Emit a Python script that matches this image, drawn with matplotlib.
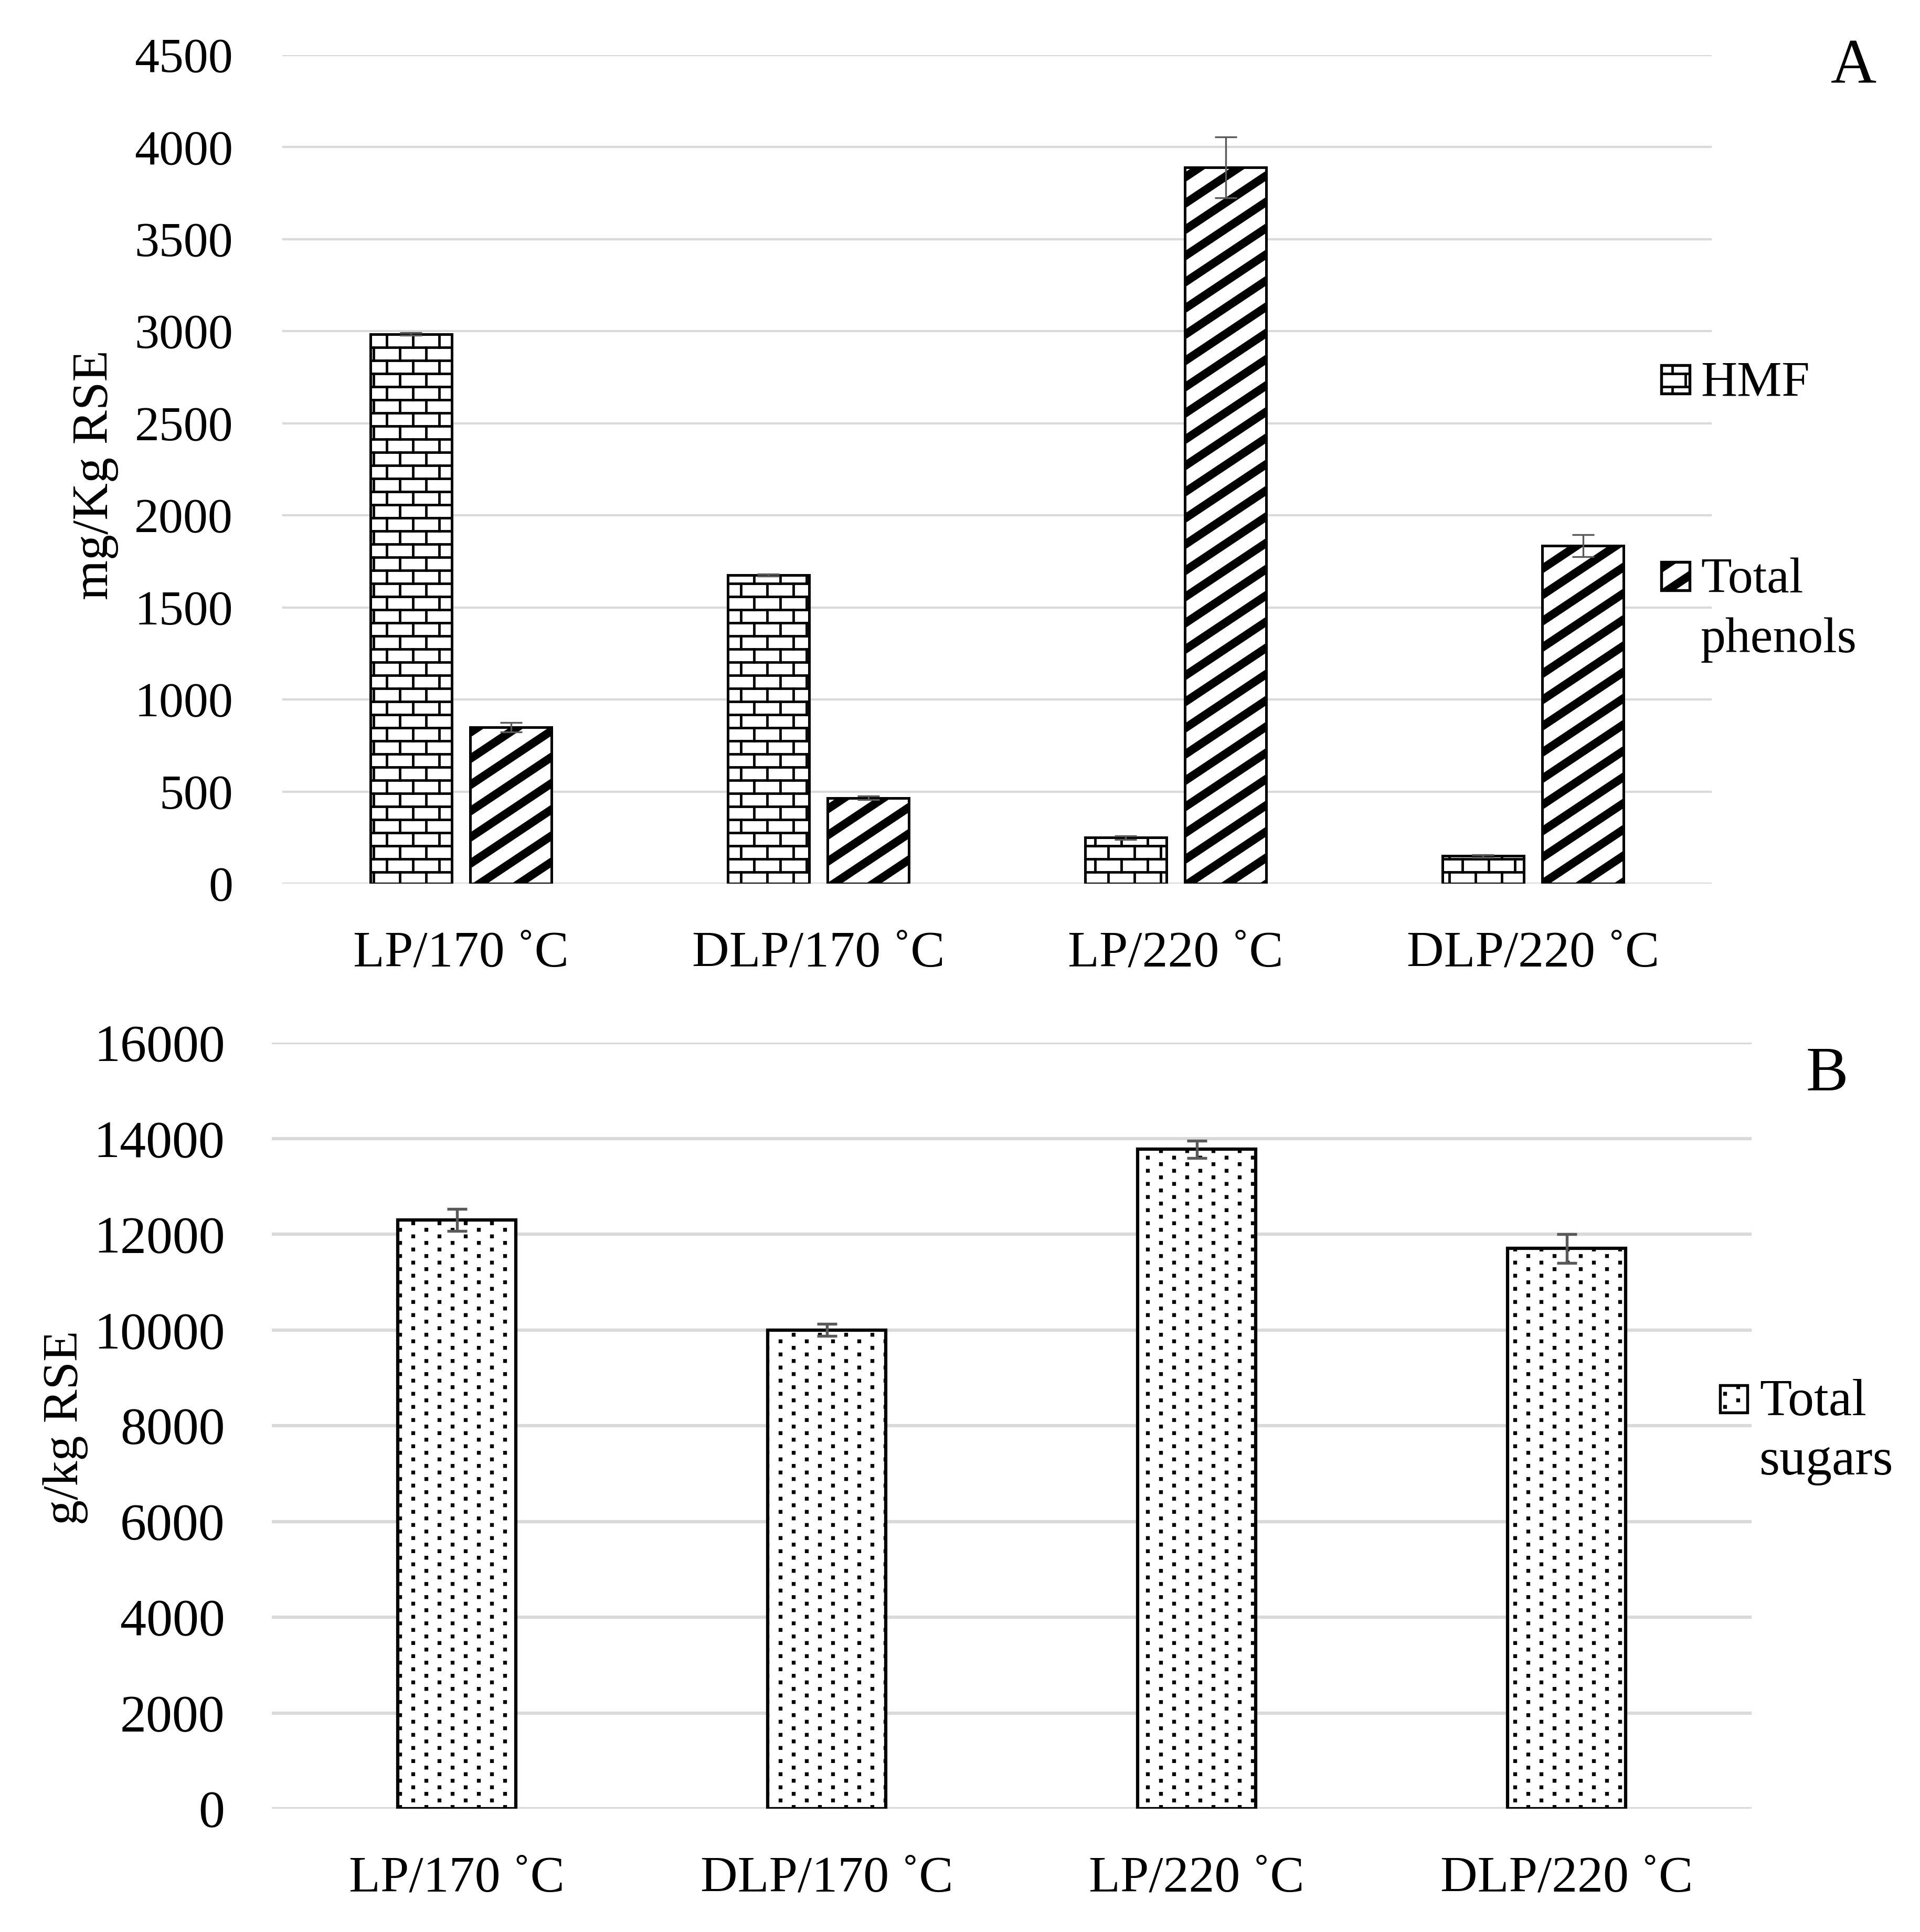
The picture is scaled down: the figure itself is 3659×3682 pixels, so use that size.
import numpy as np
import matplotlib
matplotlib.use("Agg")
import matplotlib.pyplot as plt
import matplotlib.hatch as mhatch
from matplotlib.path import Path
from matplotlib.patches import Rectangle

# values
categories = ["LP/170 \u02daC", "DLP/170 \u02daC", "LP/220 \u02daC", "DLP/220 \u02daC"]
hmf = [2985, 1675, 250, 150]
hmf_err = [8, 6, 10, 8]
phenols = [850, 465, 3890, 1835]
phenols_err = [25, 10, 165, 60]
sugars = [12300, 10000, 13770, 11700]
sugars_err = [230, 130, 180, 300]


# ---- custom hatches (brick / thick stripes / dots), one hatch tile = 1 inch ----
class BrickHatch(mhatch.HatchPatternBase):
    def __init__(self, hatch, density):
        self.rows = 12 if "-" in hatch else 0
        self.cols = 6
        self.num_vertices = self.rows * 2 + (self.rows + 1) * self.cols * 2 if self.rows else 0

    def set_vertices_and_codes(self, vertices, codes):
        h = 1.0 / self.rows
        pts = []
        for r in range(self.rows):
            y = (r + 0.5) * h
            pts += [(0.0, y), (1.0, y)]
        for r in range(-1, self.rows):
            y0 = (r + 0.5) * h
            shift = 0.75 if r % 2 else 0.25
            for c in range(self.cols):
                x = (c + shift) / self.cols
                pts += [(x, y0), (x, y0 + h)]
        vertices[:] = pts
        codes[0::2] = Path.MOVETO
        codes[1::2] = Path.LINETO


class StripeHatch(mhatch.HatchPatternBase):
    def __init__(self, hatch, density):
        self.n = 6 if "/" in hatch else 0
        self.rise = 4.0 / 6.0
        self.thick = 0.044
        self.num_vertices = 12 * 5 if self.n else 0

    def set_vertices_and_codes(self, vertices, codes):
        pts = []
        for j in range(-5, 7):
            c = j / self.n
            pts += [(0.0, c), (1.0, c + self.rise), (1.0, c + self.rise + self.thick),
                    (0.0, c + self.thick), (0.0, c)]
        vertices[:] = pts
        codes[:] = Path.LINETO
        codes[0::5] = Path.MOVETO
        codes[4::5] = Path.CLOSEPOLY


class DotHatch(mhatch.HatchPatternBase):
    def __init__(self, hatch, density):
        self.rows = 24 if "." in hatch else 0
        self.cols = 6
        self.s = 0.0042
        self.num_vertices = self.rows * self.cols * 5 if self.rows else 0

    def set_vertices_and_codes(self, vertices, codes):
        pts = []
        s = self.s
        for r in range(self.rows):
            y = (r + 0.5) / self.rows
            shift = 0.75 if r % 2 else 0.25
            for c in range(self.cols):
                x = (c + shift) / self.cols
                pts += [(x - s, y - s), (x + s, y - s), (x + s, y + s), (x - s, y + s), (x - s, y - s)]
        vertices[:] = pts
        codes[:] = Path.LINETO
        codes[0::5] = Path.MOVETO
        codes[4::5] = Path.CLOSEPOLY


mhatch._hatch_types = [BrickHatch, StripeHatch, DotHatch]

plt.rcParams["font.family"] = ["Liberation Serif", "DejaVu Serif"]
plt.rcParams["hatch.linewidth"] = 1.15
plt.rcParams["hatch.color"] = "black"

W, H = 3659, 3682
fig = plt.figure(figsize=(W / 300, H / 300), dpi=300)

grid_col = "#d9d9d9"
err_col = "#595959"
x = np.arange(len(categories))

# ---------------- panel A ----------------
ax1 = fig.add_axes([538 / W, 1 - 1684 / H, (3262 - 538) / W, (1684 - 105) / H])
off, bw = 0.14, 0.228
ax1.bar(x - off, hmf, bw, color="white", edgecolor="black", linewidth=1.2, hatch="-")
ax1.bar(x + off, phenols, bw, color="white", edgecolor="black", linewidth=1.2, hatch="/")
ax1.errorbar(x - off, hmf, yerr=hmf_err, fmt="none", ecolor=err_col,
             elinewidth=0.8, capsize=5, capthick=0.8, zorder=3)
ax1.errorbar(x + off, phenols, yerr=phenols_err, fmt="none", ecolor=err_col,
             elinewidth=0.8, capsize=5, capthick=0.8, zorder=3)
ax1.set_xlim(-0.5, 3.5)
ax1.set_ylim(0, 4500)
ax1.set_yticks(np.arange(0, 4501, 500))
ax1.set_xticks(x)
ax1.set_xticklabels(categories)
ax1.yaxis.grid(True, color=grid_col, linewidth=1.0)
ax1.set_axisbelow(True)
ax1.tick_params(axis="y", length=0, pad=22.5, labelsize=22.5)
ax1.tick_params(axis="x", length=0, pad=21.5, labelsize=23.5)
for s in ax1.spines.values():
    s.set_visible(False)

# ---------------- panel B ----------------
ax2 = fig.add_axes([518 / W, 1 - 3447 / H, (3338 - 518) / W, (3447 - 1987) / H])
ax2.bar(x, sugars, 0.32, color="white", edgecolor="black", linewidth=1.5, hatch=".")
ax2.errorbar(x, sugars, yerr=sugars_err, fmt="none", ecolor=err_col,
             elinewidth=1.3, capsize=4.6, capthick=1.3, zorder=3)
ax2.set_xlim(-0.5, 3.5)
ax2.set_ylim(0, 16000)
ax2.set_yticks(np.arange(0, 16001, 2000))
ax2.set_xticks(x)
ax2.set_xticklabels(categories)
ax2.yaxis.grid(True, color=grid_col, linewidth=1.5)
ax2.set_axisbelow(True)
ax2.tick_params(axis="y", length=0, pad=21.5, labelsize=24)
ax2.tick_params(axis="x", length=0, pad=21.5, labelsize=23.5)
for s in ax2.spines.values():
    s.set_visible(False)

# axis titles and panel letters
fig.text(182 / W, 1 - 905 / H, "mg/Kg RSE", rotation=90, ha="center", va="center", fontsize=23.5)
fig.text(125 / W, 1 - 2721 / H, "g/kg RSE", rotation=90, ha="center", va="center", fontsize=23)
fig.text(3533 / W, 1 - 159 / H, "A", ha="center", va="baseline", fontsize=29)
fig.text(3482 / W, 1 - 2078 / H, "B", ha="center", va="baseline", fontsize=29)

# legends drawn by hand so the marker sits next to the first line of text
def legend_entry(x0, y_top, size, hatch, lines, text_x, baseline, fs, step):
    fig.add_artist(Rectangle((x0 / W, 1 - (y_top + size) / H), size / W, size / H,
                             transform=fig.transFigure, facecolor="white",
                             edgecolor="black", linewidth=1.3, hatch=hatch))
    for i, t in enumerate(lines):
        fig.text(text_x / W, 1 - (baseline + i * step) / H, t, ha="left", va="baseline", fontsize=fs)

legend_entry(3166, 696, 54, "-", ["HMF"], 3241, 754, 23, 114)
legend_entry(3166, 1071, 54, "/", ["Total", "phenols"], 3241, 1129, 23, 114)
legend_entry(3278, 2640, 52, ".", ["Total", "sugars"], 3353, 2697, 24, 113)

fig.savefig("out.png", dpi=300)
